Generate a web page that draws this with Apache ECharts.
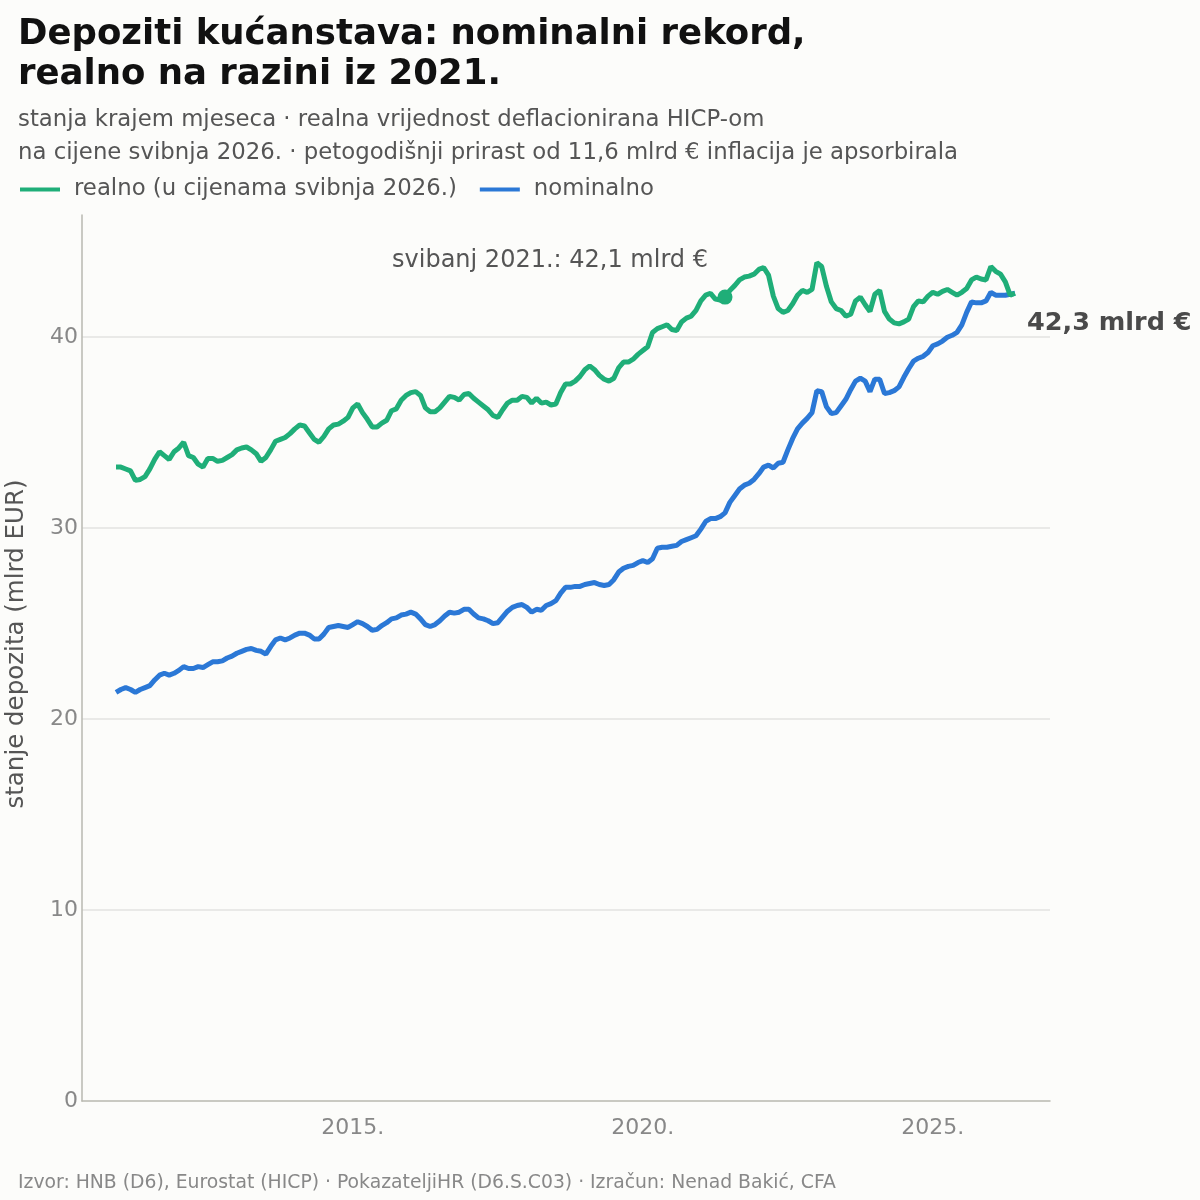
<!DOCTYPE html>
<html>
<head>
<meta charset="utf-8">
<script src="https://cdn.jsdelivr.net/npm/echarts@6/dist/echarts.min.js"></script>
<style>
  html, body { margin: 0; padding: 0; background: #fcfcfa; }
  #chart { width: 1200px; height: 1200px; }
</style>
</head>
<body>
<div id="chart"></div>
<script>
// prvi mjesec u nizu (stanje krajem mjeseca)
var startYear = 2010;
var startMonth = 11;

// realno, u cijenama svibnja 2026. (mlrd EUR)
var realno = [
  33.2, 33.2,
  33.1, 33.0, 32.5, 32.55, 32.7, 33.1, 33.6, 34.0, 33.8, 33.6, 34.0, 34.2,
  34.5, 33.8, 33.7, 33.35, 33.2, 33.65, 33.65, 33.5, 33.55, 33.7, 33.85, 34.1,
  34.2, 34.25, 34.1, 33.9, 33.5, 33.7, 34.1, 34.55, 34.65, 34.75, 34.95, 35.2,
  35.4, 35.35, 35.0, 34.65, 34.5, 34.8, 35.2, 35.4, 35.45, 35.6, 35.8, 36.3,
  36.5, 36.05, 35.7, 35.3, 35.3, 35.5, 35.65, 36.15, 36.25, 36.7, 36.95, 37.1,
  37.15, 36.95, 36.3, 36.1, 36.1, 36.3, 36.6, 36.9, 36.85, 36.7, 37.0, 37.05,
  36.8, 36.6, 36.4, 36.2, 35.9, 35.8, 36.2, 36.55, 36.7, 36.7, 36.9, 36.85,
  36.55, 36.8, 36.55, 36.6, 36.45, 36.5, 37.1, 37.55, 37.55, 37.7, 37.95, 38.3,
  38.5, 38.3, 38.0, 37.8, 37.7, 37.85, 38.4, 38.7, 38.7, 38.85, 39.1, 39.3,
  39.5, 40.25, 40.45, 40.55, 40.65, 40.4, 40.35, 40.8, 41.0, 41.1, 41.4, 41.9,
  42.2, 42.3, 42.0, 41.95, 42.1, 42.45, 42.7, 43.0, 43.15, 43.2, 43.3, 43.55,
  43.65, 43.25, 42.15, 41.5, 41.3, 41.4, 41.75, 42.2, 42.45, 42.35, 42.5, 43.9,
  43.7, 42.65, 41.85, 41.5, 41.4, 41.1, 41.2, 41.9, 42.1, 41.7, 41.35, 42.25,
  42.45, 41.35, 40.95, 40.75, 40.7, 40.8, 40.95, 41.6, 41.9, 41.85, 42.15, 42.35,
  42.25, 42.4, 42.5, 42.35, 42.2, 42.35, 42.55, 43.0, 43.15, 43.05, 43.0, 43.7,
  43.45, 43.3, 42.9, 42.2, 42.3
];

// nominalno (mlrd EUR)
var nominalno = [
  21.4, 21.55,
  21.65, 21.55, 21.4, 21.55, 21.65, 21.75, 22.05, 22.3, 22.4, 22.3, 22.4, 22.55,
  22.75, 22.65, 22.65, 22.75, 22.7, 22.85, 23.0, 23.0, 23.05, 23.2, 23.3, 23.45,
  23.55, 23.65, 23.7, 23.6, 23.55, 23.4, 23.8, 24.15, 24.25, 24.15, 24.25, 24.4,
  24.5, 24.5, 24.4, 24.2, 24.2, 24.45, 24.8, 24.85, 24.9, 24.85, 24.8, 24.95,
  25.1, 25.0, 24.85, 24.65, 24.7, 24.9, 25.05, 25.25, 25.3, 25.45, 25.5, 25.6,
  25.5, 25.25, 24.95, 24.85, 24.95, 25.15, 25.4, 25.6, 25.55, 25.6, 25.75, 25.75,
  25.5, 25.3, 25.25, 25.15, 25.0, 25.05, 25.35, 25.65, 25.85, 25.95, 26.0, 25.85,
  25.6, 25.75, 25.7, 25.95, 26.05, 26.2, 26.6, 26.9, 26.9, 26.95, 26.95, 27.05,
  27.1, 27.15, 27.05, 27.0, 27.05, 27.3, 27.7, 27.9, 28.0, 28.05, 28.2, 28.3,
  28.2, 28.4, 28.95, 29.0, 29.0, 29.05, 29.1, 29.3, 29.4, 29.5, 29.6, 29.95,
  30.35, 30.5, 30.5, 30.6, 30.8, 31.35, 31.7, 32.05, 32.25, 32.35, 32.55, 32.85,
  33.2, 33.3, 33.15, 33.4, 33.45, 34.1, 34.7, 35.2, 35.5, 35.75, 36.05, 37.2,
  37.15, 36.35, 36.0, 36.05, 36.4, 36.75, 37.25, 37.7, 37.85, 37.7, 37.15, 37.8,
  37.8, 37.05, 37.1, 37.2, 37.4, 37.9, 38.35, 38.75, 38.9, 39.0, 39.2, 39.55,
  39.65, 39.8, 40.0, 40.1, 40.25, 40.65, 41.3, 41.85, 41.8, 41.8, 41.9, 42.35,
  42.2, 42.2, 42.2, 42.25, 42.3
];

var xTicks = [2015, 2020, 2025];
var istaknuto = '2021-05';

// mjeseci kao decimalna godina (kraj mjeseca)
var mjeseci = [];
var xs = [];
for (var i = 0; i < realno.length; i++) {
  var m = startMonth - 1 + i;
  var y = startYear + Math.floor(m / 12);
  var mm = (m % 12) + 1;
  mjeseci.push(y + '-' + (mm < 10 ? '0' + mm : mm));
  xs.push(y + mm / 12);
}

function fmt(v) {
  return v.toFixed(1).replace('.', ',') + ' mlrd €';
}

var hi = mjeseci.indexOf(istaknuto);
var last = realno.length - 1;
var green = '#1fae78';
var blue = '#2b78d6';
var font = 'DejaVu Sans';

var myChart = echarts.init(document.getElementById('chart'));
var option = {
  backgroundColor: '#fcfcfa',
  textStyle: { fontFamily: font },
  animation: false,
  title: [{
    text: 'Depoziti kućanstava: nominalni rekord,\nrealno na razini iz 2021.',
    left: 13,
    top: 10,
    padding: 5,
    textStyle: { fontSize: 35.5, fontWeight: 'bold', color: '#111', lineHeight: 40, fontFamily: font }
  }, {
    text: 'stanja krajem mjeseca · realna vrijednost deflacionirana HICP-om\nna cijene svibnja 2026. · petogodišnji prirast od 11,6 mlrd € inflacija je apsorbirala',
    left: 13,
    top: 99,
    textStyle: { fontSize: 22.8, fontWeight: 'normal', color: '#555', lineHeight: 33, fontFamily: font }
  }, {
    text: 'Izvor: HNB (D6), Eurostat (HICP) · PokazateljiHR (D6.S.C03) · Izračun: Nenad Bakić, CFA',
    left: 13,
    top: 1169,
    textStyle: { fontSize: 18.8, fontWeight: 'normal', color: '#888', fontFamily: font }
  }],
  legend: {
    data: ['realno (u cijenama svibnja 2026.)', 'nominalno'],
    left: 20,
    top: 178,
    padding: 0,
    icon: 'rect',
    itemWidth: 40,
    itemHeight: 4,
    itemGap: 23,
    textStyle: { fontSize: 22.8, color: '#555', fontFamily: font, padding: [0, 0, 0, 9] }
  },
  grid: { left: 82, right: 150, top: 215, bottom: 99, outerBoundsMode: 'none', containLabel: false },
  xAxis: {
    type: 'value',
    min: 2010.33,
    max: 2027.02,
    axisLine: { lineStyle: { color: '#b8b8b0', width: 1.5 } },
    axisTick: { show: false },
    splitLine: { show: false },
    axisLabel: {
      customValues: xTicks,
      formatter: function (v) { return v + '.'; },
      color: '#888',
      fontSize: 22,
      margin: 16
    }
  },
  yAxis: {
    type: 'value',
    min: 0,
    max: 46.4,
    interval: 10,
    name: 'stanje depozita (mlrd EUR)',
    nameLocation: 'middle',
    nameGap: 53,
    nameTextStyle: { fontSize: 24.5, color: '#555', padding: [0, 0, 0, 28] },
    axisLine: { show: true, lineStyle: { color: '#b8b8b0', width: 1.5 } },
    axisTick: { show: false },
    axisLabel: { color: '#888', fontSize: 22, margin: 4, showMaxLabel: false },
    splitLine: { showMaxLine: false, showMinLine: false, lineStyle: { color: '#e3e3e0', width: 1.5 } }
  },
  series: [{
    name: 'nominalno',
    type: 'line',
    data: xs.map(function (x, i) { return [x, nominalno[i]]; }),
    showSymbol: false,
    lineStyle: { color: blue, width: 5 },
    itemStyle: { color: blue },
    z: 2
  }, {
    name: 'realno (u cijenama svibnja 2026.)',
    type: 'line',
    data: xs.map(function (x, i) { return [x, realno[i]]; }),
    showSymbol: false,
    lineStyle: { color: green, width: 5 },
    itemStyle: { color: green },
    z: 3
  }, {
    name: 'istaknuto',
    type: 'scatter',
    data: [[xs[hi], realno[hi]]],
    symbolSize: 15,
    itemStyle: { color: green, opacity: 1 },
    z: 4,
    label: {
      show: true,
      position: 'top',
      offset: [-175, -12],
      formatter: function (p) { return 'svibanj 2021.: ' + fmt(p.value[1]); },
      fontSize: 24,
      color: '#555'
    }
  }, {
    name: 'kraj',
    type: 'scatter',
    data: [[xs[last], realno[last]]],
    symbolSize: 0,
    itemStyle: { opacity: 1 },
    z: 4,
    label: {
      show: true,
      position: 'right',
      offset: [7, 30],
      formatter: function (p) { return fmt(p.value[1]); },
      fontSize: 25.5,
      fontWeight: 'bold',
      color: '#4a4a4a'
    }
  }]
};
myChart.setOption(option, true);
window.addEventListener('resize', function () {
  myChart.resize();
});
</script>
</body>
</html>
